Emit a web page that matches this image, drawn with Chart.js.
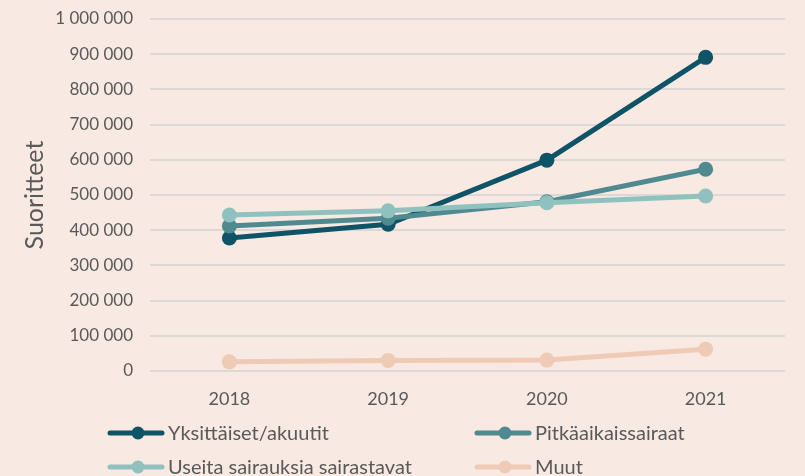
<!DOCTYPE html>
<html>
<head>
<meta charset="utf-8">
<script src="https://cdn.jsdelivr.net/npm/chart.js@4/dist/chart.umd.min.js"></script>
<style>
  html, body { margin: 0; padding: 0; background: #f8e9e2; }
  #wrap { position: relative; width: 805px; height: 476px; }
</style>
</head>
<body>
<div id="wrap"><canvas id="c" width="805" height="476"></canvas></div>
<script>
const years = ['2018', '2019', '2020', '2021'];
const yksittaiset = [378000, 417000, 599000, 891000];
const pitkaaikais = [412000, 434000, 481000, 573000];
const useita = [443000, 455000, 478000, 497000];
const muut = [26000, 30000, 31000, 62000];
const seriesNames = ['Yksittäiset/akuutit', 'Pitkäaikaissairaat', 'Useita sairauksia sairastavat', 'Muut'];
const seriesColors = ['#0f5366', '#4f8a91', '#8fc2bf', '#efcab5'];
const yTitle = 'Suoritteet';

const FONT = 'Lato, "Open Sans", sans-serif';
const TXT = '#595959';

function fmt(v) { return String(v).replace(/\B(?=(\d{3})+(?!\d))/g, ' '); }

function ds(label, data, color, order) {
  return {
    label, data, order,
    borderColor: color, backgroundColor: color,
    pointBackgroundColor: color, pointBorderColor: color,
    borderWidth: 5, pointRadius: 7.5, pointHoverRadius: 7.5, pointBorderWidth: 0,
    tension: 0, fill: false
  };
}

const bgPlugin = {
  id: 'bg',
  beforeDraw(chart) {
    const ctx = chart.ctx;
    ctx.save();
    ctx.fillStyle = '#f8e9e2';
    ctx.fillRect(0, 0, chart.width, chart.height);
    ctx.restore();
  }
};

const legendPlugin = {
  id: 'customLegend',
  afterDraw(chart) {
    const ctx = chart.ctx;
    const pos = [[108, 433], [475, 433], [108, 467], [475, 467]];
    ctx.save();
    chart.data.datasets.forEach((d, i) => {
      const [x, y] = pos[i];
      ctx.strokeStyle = d.borderColor;
      ctx.lineWidth = 5;
      ctx.lineCap = 'round';
      ctx.beginPath();
      ctx.moveTo(x + 2, y);
      ctx.lineTo(x + 54, y);
      ctx.stroke();
      ctx.fillStyle = d.borderColor;
      ctx.beginPath();
      ctx.arc(x + 30, y, 6.5, 0, Math.PI * 2);
      ctx.fill();
      ctx.fillStyle = TXT;
      ctx.font = '20px ' + FONT;
      ctx.textBaseline = 'middle';
      ctx.textAlign = 'left';
      ctx.fillText(d.label, x + 60, y + 1);
    });
    ctx.restore();
  }
};

new Chart(document.getElementById('c'), {
  type: 'line',
  data: {
    labels: years,
    datasets: [
      ds(seriesNames[0], yksittaiset, seriesColors[0], 4),
      ds(seriesNames[1], pitkaaikais, seriesColors[1], 3),
      ds(seriesNames[2], useita, seriesColors[2], 2),
      ds(seriesNames[3], muut, seriesColors[3], 1)
    ]
  },
  options: {
    responsive: false,
    animation: false,
    devicePixelRatio: 1,
    layout: { padding: { left: 0, right: 20, top: 19, bottom: 0 } },
    plugins: { legend: { display: false }, tooltip: { enabled: false } },
    scales: {
      x: {
        offset: true,
        grid: { display: false, drawTicks: false },
        border: { display: false },
        ticks: { color: TXT, font: { family: FONT, size: 18 }, padding: 17 },
        afterFit(s) { s.height = 105; s.paddingLeft = 0; s.paddingRight = 0; }
      },
      y: {
        min: 0, max: 1000000,
        grid: { color: '#dcd8d6', lineWidth: 2, drawTicks: false },
        border: { display: false },
        ticks: { stepSize: 100000, color: TXT, font: { family: FONT, size: 17 }, padding: 17, callback: v => fmt(v) },
        title: { display: true, text: yTitle, color: TXT, font: { family: FONT, size: 25 }, padding: { top: 20, bottom: 0 } },
        afterFit(s) { s.width = 150; s.paddingTop = 0; s.paddingBottom = 0; }
      }
    }
  },
  plugins: [bgPlugin, legendPlugin]
});
</script>
</body>
</html>
